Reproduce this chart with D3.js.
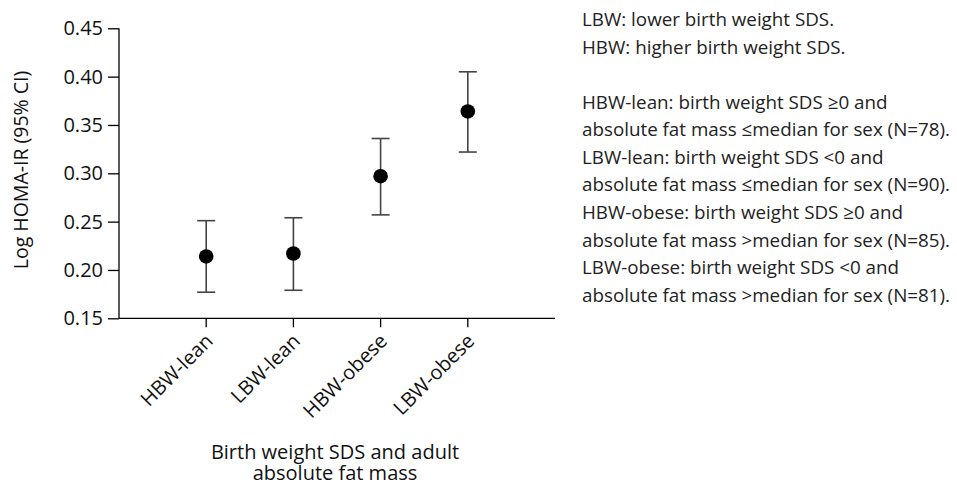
<!DOCTYPE html>
<html><head><meta charset="utf-8">
<script src="https://cdn.jsdelivr.net/npm/d3@7"></script>
<style>
body{margin:0;background:#fff;}
svg{display:block;font-family:"Open Sans",sans-serif;}
</style></head>
<body><svg id="c" width="957" height="488"></svg>
<script>
const categories = ["HBW-lean","LBW-lean","HBW-obese","LBW-obese"];
const means = [0.214, 0.217, 0.297, 0.364];
const lower = [0.177, 0.179, 0.257, 0.322];
const upper = [0.251, 0.254, 0.336, 0.405];
const yTicks = [0.15,0.20,0.25,0.30,0.35,0.40,0.45];
const notes = [
 "LBW: lower birth weight SDS.",
 "HBW: higher birth weight SDS.",
 "",
 "HBW-lean: birth weight SDS \u22650 and",
 "absolute fat mass \u2264median for sex (N=78).",
 "LBW-lean: birth weight SDS <0 and",
 "absolute fat mass \u2264median for sex (N=90).",
 "HBW-obese: birth weight SDS \u22650 and",
 "absolute fat mass >median for sex (N=85).",
 "LBW-obese: birth weight SDS <0 and",
 "absolute fat mass >median for sex (N=81)."
];
const svg = d3.select("#c");
const L = 119, R = 555, T = 28.3, B = 318.3;
const y = d3.scaleLinear().domain([0.15,0.45]).range([B,T]);
const xi = d3.scaleLinear().domain([0,5]).range([L,R]);
const x = c => xi(categories.indexOf(c)+1);

// y axis
const ya = svg.append("g").attr("transform",`translate(${L},0)`)
  .call(d3.axisLeft(y).tickValues(yTicks).tickFormat(d3.format(".2f")).tickSize(11).tickPadding(5));
ya.select(".domain").attr("d",`M0,${T}V${B}`);
// x axis
const xa = svg.append("g").attr("transform",`translate(0,${B})`);
xa.append("line").attr("x1",L).attr("x2",R).attr("stroke","#000");
categories.forEach(c=>{
  xa.append("line").attr("x1",x(c)).attr("x2",x(c)).attr("y1",0).attr("y2",9).attr("stroke","#000");
  xa.append("text").attr("transform",`translate(${x(c)+3},${19}) rotate(-45)`)
    .attr("text-anchor","end").attr("dy","0.35em").attr("font-size",20).attr("fill","#111").text(c);
});
svg.selectAll(".tick text").attr("font-size",20).attr("font-family","Open Sans").attr("fill","#111");
svg.selectAll(".domain, .tick line").attr("stroke","#000").attr("stroke-width",1.3);
xa.selectAll("line").attr("stroke-width",1.3);

// error bars
const g = svg.append("g");
categories.forEach((c,i)=>{
  const cx = x(c);
  g.append("line").attr("x1",cx).attr("x2",cx).attr("y1",y(lower[i])).attr("y2",y(upper[i])).attr("stroke","#444").attr("stroke-width",1.6);
  [lower[i],upper[i]].forEach(v=>g.append("line").attr("x1",cx-9).attr("x2",cx+9).attr("y1",y(v)).attr("y2",y(v)).attr("stroke","#444").attr("stroke-width",1.6));
  g.append("circle").attr("cx",cx).attr("cy",y(means[i])).attr("r",7.3).attr("fill","#000");
});

// axis titles
svg.append("text").attr("transform",`translate(28,${170}) rotate(-90)`).attr("text-anchor","middle")
  .attr("font-size",19.5).attr("fill","#111").text("Log HOMA-IR (95% CI)");
svg.append("text").attr("text-anchor","middle").attr("font-size",20).attr("fill","#111")
  .attr("x",335).attr("y",459).text("Birth weight SDS and adult");
svg.append("text").attr("text-anchor","middle").attr("font-size",20).attr("fill","#111")
  .attr("x",335).attr("y",480).text("absolute fat mass");

// notes
const nt = svg.append("text").attr("font-size",18.8).attr("fill","#222");
notes.forEach((s,i)=>nt.append("tspan").attr("x",582).attr("y",26+i*27.57).text(s));
</script></body></html>
